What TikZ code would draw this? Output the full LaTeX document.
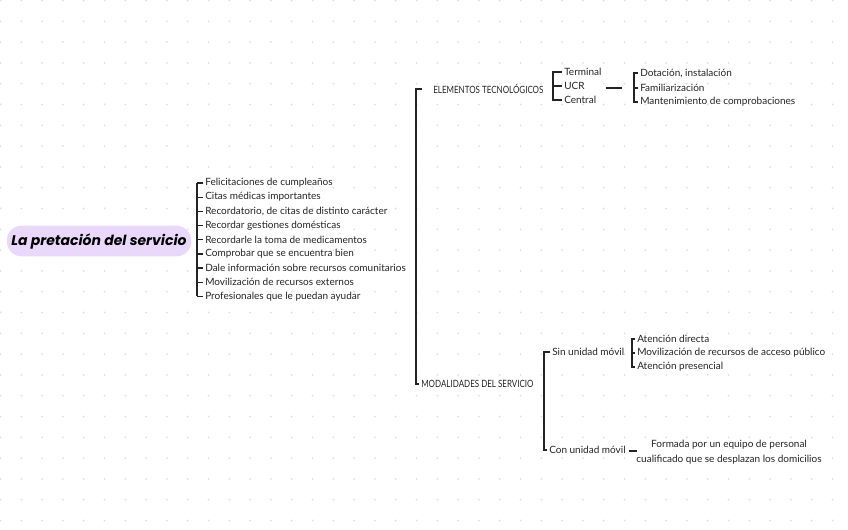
\documentclass[tikz,border=0pt]{standalone}
\usepackage{fontspec}
\setmainfont{Lato}
\newfontfamily\titlefont{Poppins}
\usetikzlibrary{positioning, calc}
\definecolor{ink}{RGB}{35,35,35}
\definecolor{lilac}{RGB}{234,216,250}
\definecolor{dotgray}{RGB}{222,222,222}

\begin{document}
\begin{tikzpicture}[x=0.75pt, y=-0.75pt,
  item/.style={anchor=west, inner sep=1.5pt, font=\fontsize{7.5}{8}\selectfont, text=ink},
  caps/.style={anchor=west, inner sep=1.5pt, font=\fontsize{7.5}{8}\selectfont, text=ink},
  brace/.style={draw=ink, line width=1pt}]
\useasboundingbox (0,0) rectangle (848,530);

% dotted paper
\foreach \i in {0,...,40}
  \foreach \j in {0,...,25}
    \fill[dotgray] (\i*20.8+0.5, \j*20.8+0.5) circle (1);

% central topic
\node[fill=lilac, rounded corners=11pt, minimum width=138pt, minimum height=23pt,
      font=\titlefont\bfseries\itshape\fontsize{10.5}{11}\selectfont, text=black] (title) at (99,241)
  {La pretación del servicio};

% service list
\coordinate (b1) at (197,0);
\foreach \t [count=\k] in {Felicitaciones de cumpleaños, Citas médicas importantes,
    {Recordatorio, de citas de distinto carácter}, Recordar gestiones domésticas,
    Recordarle la toma de medicamentos, Comprobar que se encuentra bien,
    Dale información sobre recursos comunitarios, Movilización de recursos externos,
    Profesionales que le puedan ayudar}
  \node[item] (s\k) at (203, 183+\k*14.17-14.17) {\t};
\draw[brace] (s1.west -| b1) -- (s9.west -| b1);
\foreach \k in {1,...,9}
  \draw[brace] (s\k.west -| b1) -- (s\k.west);

% main branches
\coordinate (b0) at (416,0);
\node[caps] (tech) at (431,89) {\scalebox{0.8}[1]{ELEMENTOS TECNOLÓGICOS}};
\node[caps] (moda) at (419,384) {\scalebox{0.8}[1]{MODALIDADES DEL SERVICIO}};
\draw[brace] ($(tech.west -| b0)+(6,0)$) -- (tech.west -| b0) -- (moda.west -| b0) -- (moda.west);

% elementos tecnologicos
\coordinate (b2) at (553,0);
\node[item] (term) at (562,72) {Terminal};
\node[item] (ucr) at (562,86) {UCR};
\node[item] (cent) at (562,100) {Central};
\draw[brace] (term.west) -- (term.west -| b2) -- (cent.west -| b2) -- (cent.west);
\draw[brace] (ucr.west -| b2) -- (ucr.west);

\coordinate (j1) at (606,88);
\coordinate (j2) at (622,88);
\draw[brace] (j1) -- (j2);

\coordinate (b3) at (634,0);
\node[item] (dot) at (638,73) {Dotación, instalación};
\node[item] (fam) at (638,88) {Familiarización};
\node[item] (mant) at (638,102) {Mantenimiento de comprobaciones};
\draw[brace] (dot.west) -- (dot.west -| b3) -- (mant.west -| b3) -- (mant.west);
\draw[brace] (fam.west -| b3) -- (fam.west);

% modalidades
\coordinate (b4) at (544,0);
\node[item] (sin) at (550,352) {Sin unidad móvil};
\node[item] (con) at (547,450) {Con unidad móvil};
\draw[brace] (sin.west) -- (sin.west -| b4) -- (con.west -| b4) -- (con.west);

\coordinate (b5) at (632,0);
\node[item] (adir) at (635,339) {Atención directa};
\node[item] (mov) at (635,353) {Movilización de recursos de acceso público};
\node[item] (apre) at (635,367) {Atención presencial};
\draw[brace] (adir.west) -- (adir.west -| b5) -- (apre.west -| b5) -- (apre.west);
\draw[brace] (mov.west -| b5) -- (mov.west);

\node[item, anchor=center, align=center, font=\fontsize{7.5}{11}\selectfont] (equipo) at (729,452)
  {Formada por un equipo de personal\\cualificado que se desplazan los domicilios};
\coordinate (j3) at (629,451);
\coordinate (j4) at (637,451);
\draw[brace] (j3) -- (j4);
\end{tikzpicture}
\end{document}
